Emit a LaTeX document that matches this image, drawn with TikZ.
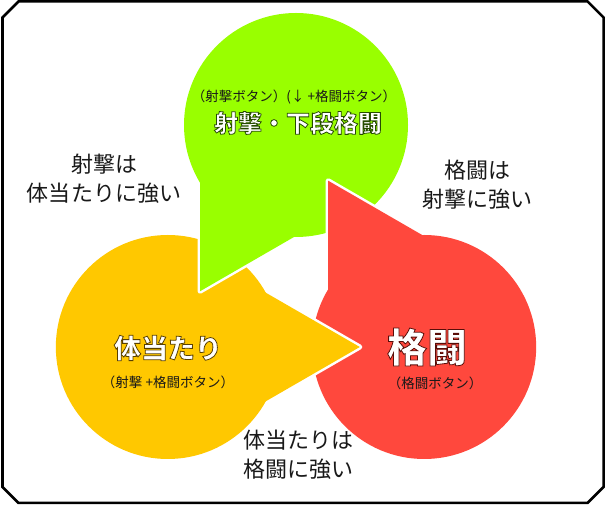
\documentclass[tikz,border=0pt]{standalone}
\usepackage{fontspec}
\setmainfont{Noto Sans CJK JP}
\usetikzlibrary{calc}
\definecolor{cgreen}{RGB}{153,255,0}
\definecolor{cyellow}{RGB}{255,200,0}
\definecolor{cred}{RGB}{255,72,61}
\definecolor{ink}{RGB}{25,25,25}
\newcommand\glowtxt[2]{\special{pdf:literal direct 2 Tr 0.8 w #1 RG}#2\special{pdf:literal direct 0 Tr}}
\newcommand\tdshape[2]{%
  \coordinate (tdc) at ($(O)+(#1:148)$);
  \coordinate (tdt) at ($(tdc)+(#1+150:192)$);
  \coordinate (tde1) at ($(tdt)+(#1+300:150)$);
  \coordinate (tde2) at ($(tdt)+(#1:150)$);
  \draw[outl] (tdc) circle[radius=112];
  \draw[outl] (tdt) -- (tde1) -- (tdc) -- (tde2) -- cycle;
  \fill[#2] (tdc) circle[radius=112];
  \fill[#2] (tdt) -- (tde1) -- (tdc) -- (tde2) -- cycle;
}
\tikzset{
  outl/.style={draw=white, line width=5bp, line join=round},
  lbl/.style={text=ink, align=center, inner sep=0pt, font=\fontsize{22bp}{29bp}\selectfont},
  smalltxt/.style={text=ink, inner sep=0pt, font=\fontsize{13.5bp}{15bp}\selectfont},
  title/.style={text=white, inner sep=0pt},
  frame/.style={draw=black, line width=2.5bp, line join=miter}
}
\begin{document}
\begin{tikzpicture}[x=1bp,y=1bp]
\useasboundingbox (0,0) rectangle (606,505);
\fill[white] (0,0) rectangle (606,505);
\coordinate (O) at (296,232);
% shapes
\tdshape{210}{cyellow}
\tdshape{90}{cgreen}
\tdshape{330}{cred}
\begin{scope}
  \clip (295,80) rectangle (385,240);
  \tdshape{210}{cyellow}
\end{scope}
% frame
\draw[frame] (18.5,503.5) -- (587.5,503.5) -- (603.5,487.5) -- (603.5,18) -- (587.5,2) -- (18.5,2) -- (2.5,18) -- (2.5,487.5) -- cycle;
% texts in shapes
\node[smalltxt] (sgreen) at (294,408) {（射撃ボタン）(↓ +格闘ボタン）};
\node[title, font=\fontsize{24bp}{24bp}\selectfont\bfseries] (tgreen) at (298,382) {\glowtxt{0.15 0.3 0}{射撃・下段格闘}};
\node[title, font=\fontsize{27bp}{27bp}\selectfont\bfseries] (tyellow) at (168,157) {\glowtxt{0.35 0.25 0}{体当たり}};
\node[smalltxt] (syellow) at (168,123) {（射撃 +格闘ボタン）};
\node[title, font=\fontsize{40bp}{40bp}\selectfont\bfseries] (tred) at (427,158) {\glowtxt{0.35 0.05 0.03}{格闘}};
\node[smalltxt] (sred) at (435,122) {（格闘ボタン）};
% relation labels
\node[lbl] (lshoot) at (104,326) {射撃は\\体当たりに強い};
\node[lbl] (lfight) at (477,320) {格闘は\\射撃に強い};
\node[lbl] (ltackle) at (298,50) {体当たりは\\格闘に強い};
\end{tikzpicture}
\end{document}
